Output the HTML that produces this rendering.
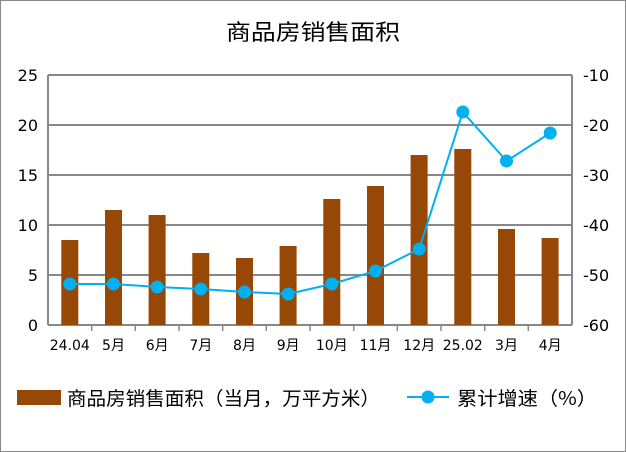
<!DOCTYPE html>
<html><head><meta charset="utf-8"><style>
html,body{margin:0;padding:0;background:#fff}
svg{display:block}
text{font-family:"DejaVu Sans","Liberation Sans","Noto Sans CJK SC",sans-serif;fill:#000}
.cjk{font-family:"WenQuanYi Zen Hei","Noto Sans CJK SC",sans-serif}
</style></head><body>
<svg width="626" height="452" viewBox="0 0 626 452">
<rect x="0.5" y="0.5" width="625" height="451" fill="#fff" stroke="#888" stroke-width="1"/>
<text x="226" y="40" font-size="22" class="cjk" textLength="174" lengthAdjust="spacingAndGlyphs">商品房销售面积</text>
<g stroke="#888" stroke-width="2" fill="none">
<line x1="48" y1="75" x2="572" y2="75"/>
<line x1="48" y1="125" x2="572" y2="125"/>
<line x1="48" y1="175" x2="572" y2="175"/>
<line x1="48" y1="225" x2="572" y2="225"/>
<line x1="48" y1="275" x2="572" y2="275"/>
<line x1="48" y1="325" x2="572" y2="325"/>
<line x1="48" y1="75" x2="48" y2="325"/>
<line x1="572" y1="75" x2="572" y2="325"/>
</g>
<g stroke="#888" stroke-width="1.5">
<line x1="91.7" y1="325" x2="91.7" y2="331"/><line x1="135.3" y1="325" x2="135.3" y2="331"/>
<line x1="179" y1="325" x2="179" y2="331"/><line x1="222.7" y1="325" x2="222.7" y2="331"/>
<line x1="266.3" y1="325" x2="266.3" y2="331"/><line x1="310" y1="325" x2="310" y2="331"/>
<line x1="353.7" y1="325" x2="353.7" y2="331"/><line x1="397.3" y1="325" x2="397.3" y2="331"/>
<line x1="441" y1="325" x2="441" y2="331"/><line x1="484.7" y1="325" x2="484.7" y2="331"/>
<line x1="528.3" y1="325" x2="528.3" y2="331"/>
</g>
<g fill="#974706">
<rect x="61.3" y="240" width="17" height="85"/>
<rect x="105" y="210" width="17" height="115"/>
<rect x="148.6" y="215" width="17" height="110"/>
<rect x="192.3" y="253" width="17" height="72"/>
<rect x="236" y="258" width="17" height="67"/>
<rect x="279.6" y="246" width="17" height="79"/>
<rect x="323.3" y="199" width="17" height="126"/>
<rect x="367" y="186" width="17" height="139"/>
<rect x="410.6" y="155" width="17" height="170"/>
<rect x="454.3" y="149" width="17" height="176"/>
<rect x="498" y="229" width="17" height="96"/>
<rect x="541.6" y="238" width="17" height="87"/>
</g>
<polyline fill="none" stroke="#00b0f0" stroke-width="2" points="69.8,284 113.5,284 157.2,287 200.8,289 244.5,292 288.2,294 331.8,284 375.5,271 419.2,249 462.8,112 506.5,161 550.2,133"/>
<g fill="#00b0f0">
<circle cx="69.8" cy="284" r="6.5"/><circle cx="113.5" cy="284" r="6.5"/><circle cx="157.2" cy="287" r="6.5"/>
<circle cx="200.8" cy="289" r="6.5"/><circle cx="244.5" cy="292" r="6.5"/><circle cx="288.2" cy="294" r="6.5"/>
<circle cx="331.8" cy="284" r="6.5"/><circle cx="375.5" cy="271" r="6.5"/><circle cx="419.2" cy="249" r="6.5"/>
<circle cx="462.8" cy="112" r="6.5"/><circle cx="506.5" cy="161" r="6.5"/><circle cx="550.2" cy="133" r="6.5"/>
</g>
<g font-size="16" text-anchor="end">
<text x="38" y="81">25</text><text x="38" y="131">20</text><text x="38" y="181">15</text>
<text x="38" y="231">10</text><text x="38" y="281">5</text><text x="38" y="331">0</text>
</g>
<g font-size="16" text-anchor="start">
<text x="583" y="81">-10</text><text x="583" y="131">-20</text><text x="583" y="181">-30</text>
<text x="583" y="231">-40</text><text x="583" y="281">-50</text><text x="583" y="331">-60</text>
</g>
<g font-size="14" text-anchor="middle">
<text x="69.8" y="350">24.04</text><text x="113.5" y="350">5月</text><text x="157.2" y="350">6月</text>
<text x="200.8" y="350">7月</text><text x="244.5" y="350">8月</text><text x="288.2" y="350">9月</text>
<text x="331.8" y="350">10月</text><text x="375.5" y="350">11月</text><text x="419.2" y="350">12月</text>
<text x="462.8" y="350">25.02</text><text x="506.5" y="350">3月</text><text x="550.2" y="350">4月</text>
</g>
<rect x="17" y="390" width="44" height="15" fill="#974706"/>
<text x="67" y="405" font-size="19" class="cjk" textLength="313" lengthAdjust="spacingAndGlyphs">商品房销售面积（当月，万平方米）</text>
<line x1="407" y1="397" x2="449" y2="397" stroke="#00b0f0" stroke-width="2"/>
<circle cx="428" cy="397" r="6.5" fill="#00b0f0"/>
<text x="457" y="405" font-size="19" class="cjk" textLength="140" lengthAdjust="spacingAndGlyphs">累计增速（%）</text>
</svg>
</body></html>
